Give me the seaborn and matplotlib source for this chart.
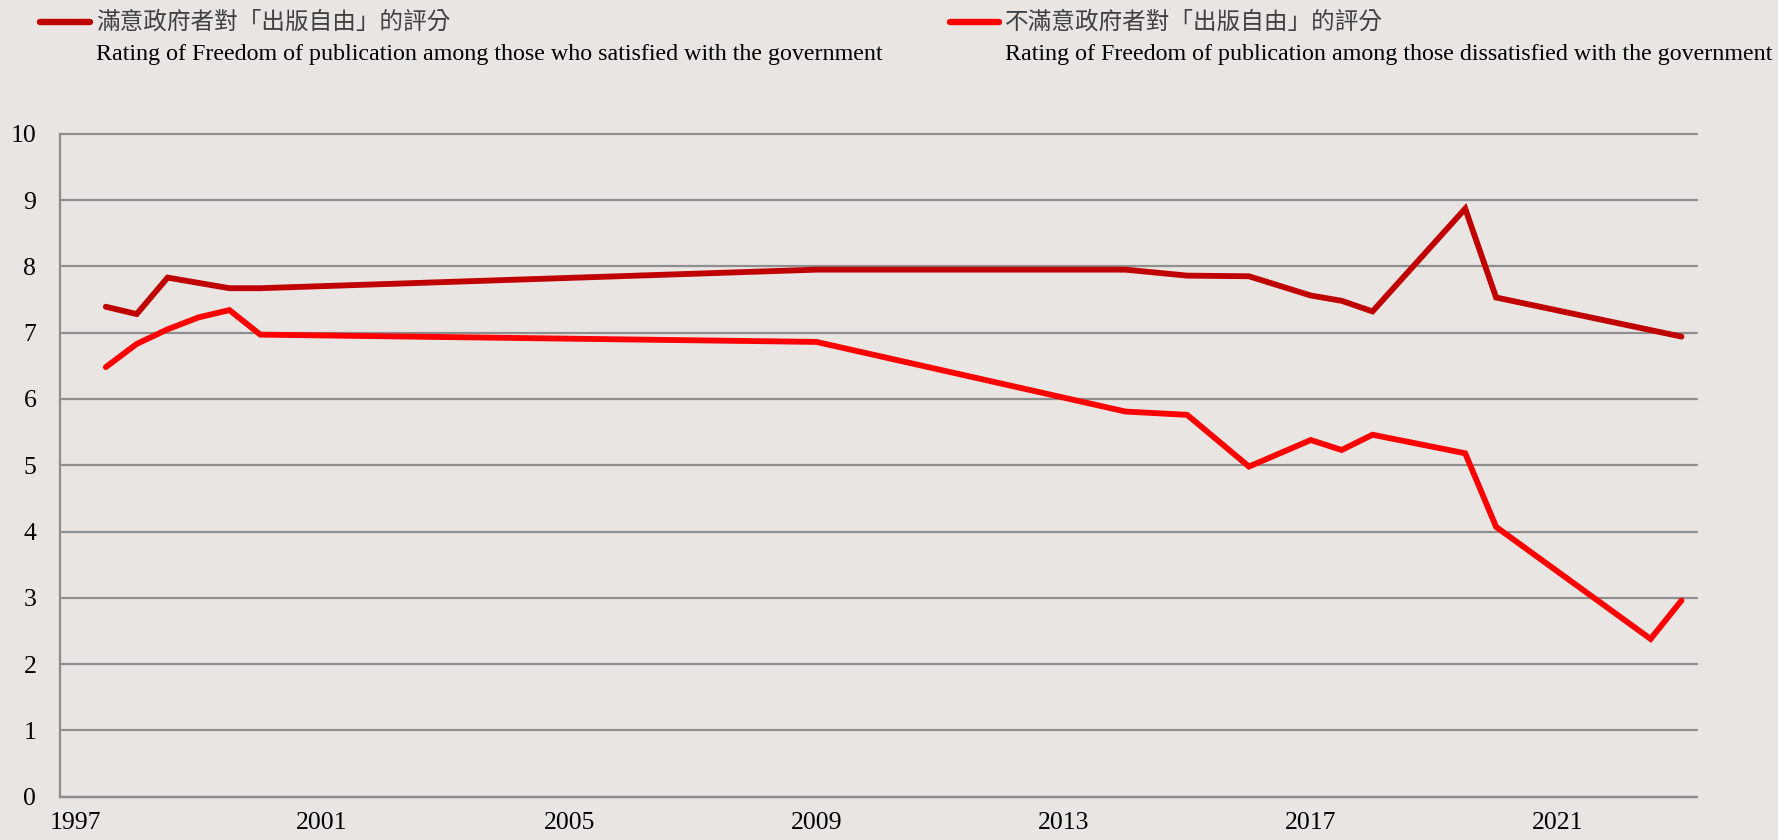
import matplotlib
matplotlib.use("Agg")
import matplotlib.pyplot as plt
import pandas as pd
import seaborn as sns

# ---------------------------- DATA ------------------------------------

years_satisfied = [1997.5, 1998.0, 1998.5, 1999.0, 1999.5, 2000.0, 2009.0,
                   2014.0, 2015.0, 2016.0, 2017.0, 2017.5, 2018.0, 2019.5,
                   2020.0, 2023.0]
rating_satisfied = [7.39, 7.28, 7.83, 7.75, 7.67, 7.67, 7.95,
                    7.95, 7.86, 7.85, 7.56, 7.48, 7.32, 8.87,
                    7.53, 6.94]

years_dissatisfied = [1997.5, 1998.0, 1998.5, 1999.0, 1999.5, 2000.0, 2009.0,
                      2014.0, 2015.0, 2016.0, 2017.0, 2017.5, 2018.0, 2019.5,
                      2020.0, 2022.5, 2023.0]
rating_dissatisfied = [6.48, 6.83, 7.05, 7.23, 7.34, 6.97, 6.86,
                       5.81, 5.76, 4.98, 5.38, 5.23, 5.46, 5.18,
                       4.07, 2.38, 2.96]

x_ticks = [1997, 2001, 2005, 2009, 2013, 2017, 2021]
y_ticks = [0, 1, 2, 3, 4, 5, 6, 7, 8, 9, 10]

label_sat_zh = "滿意政府者對「出版自由」的評分"
label_sat_en = "Rating of Freedom of publication among those who satisfied with the government"
label_dis_zh = "不滿意政府者對「出版自由」的評分"
label_dis_en = "Rating of Freedom of publication among those dissatisfied with the government"

# ---------------------------- STYLE -----------------------------------

BG = "#E8E5E2"
GRID = "#8E8E8E"
DARK_RED = "#C00000"
RED = "#FF0000"
CJK = ["Noto Sans CJK TC", "DejaVu Sans"]

sns.set_style("white")
plt.rcParams["font.family"] = ["Liberation Serif", "DejaVu Serif"]

fig = plt.figure(figsize=(17.78, 8.4), dpi=100, facecolor=BG)
ax = fig.add_axes([0.0337, 0.0515, 0.9207, 0.7893])
ax.set_facecolor(BG)

df_sat = pd.DataFrame({"year": years_satisfied, "rating": rating_satisfied})
df_dis = pd.DataFrame({"year": years_dissatisfied, "rating": rating_dissatisfied})

sns.lineplot(data=df_sat, x="year", y="rating", color=DARK_RED, lw=4.2,
             ax=ax, zorder=3, solid_capstyle="round", solid_joinstyle="miter")
sns.lineplot(data=df_dis, x="year", y="rating", color=RED, lw=4.2,
             ax=ax, zorder=3, solid_capstyle="round", solid_joinstyle="miter")

ax.set_xlim(1996.757, 2023.25)
ax.set_ylim(0, 10)
ax.set_xticks(x_ticks)
ax.set_xticklabels([str(y) for y in x_ticks])
ax.set_yticks(y_ticks)
ax.set_xlabel("")
ax.set_ylabel("")

ax.yaxis.grid(True, color=GRID, lw=1.6, zorder=1)
ax.xaxis.grid(False)
for gl in ax.get_ygridlines():
    gl.set_clip_on(False)
for side in ["top", "right"]:
    ax.spines[side].set_visible(False)
for side in ["left", "bottom"]:
    ax.spines[side].set_color(GRID)
    ax.spines[side].set_linewidth(1.6)

ax.tick_params(axis="x", length=0, pad=11, labelsize=18.5, labelcolor="black")
ax.tick_params(axis="y", length=0, pad=17, labelsize=18.5, labelcolor="black")

# ---------------------------- LEGEND ----------------------------------

def legend_entry(x_line0, x_line1, x_text, color, zh, en):
    fig.add_artist(plt.Line2D([x_line0 / 1778, x_line1 / 1778],
                              [1 - 21.5 / 840, 1 - 21.5 / 840],
                              color=color, lw=4.6, solid_capstyle="round"))
    fig.text(x_text / 1778, 1 - 22 / 840, zh, family=CJK, fontsize=17,
             color="#404040", va="center", ha="left")
    fig.text(x_text / 1778, 1 - 60 / 840, en, fontsize=17.3,
             color="black", va="baseline", ha="left")


legend_entry(40, 90, 96, DARK_RED, label_sat_zh, label_sat_en)
legend_entry(950, 999, 1005, RED, label_dis_zh, label_dis_en)

fig.savefig("out.png", dpi=100, facecolor=BG)
